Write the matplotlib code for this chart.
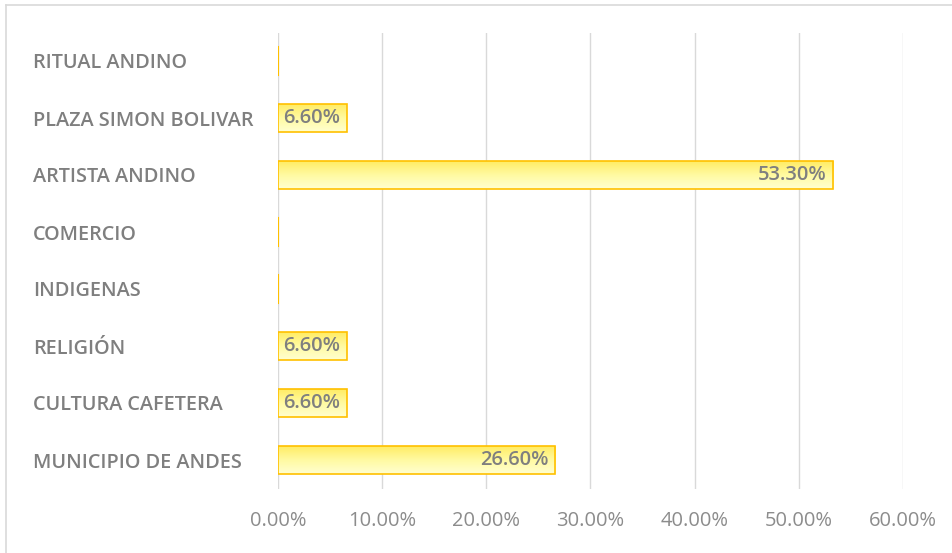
import matplotlib
matplotlib.use("Agg")
import matplotlib.pyplot as plt
import numpy as np
from matplotlib.colors import LinearSegmentedColormap
from matplotlib.lines import Line2D

categories = ["MUNICIPIO DE ANDES", "CULTURA CAFETERA", "RELIGIÓN", "INDIGENAS",
              "COMERCIO", "ARTISTA ANDINO", "PLAZA SIMON BOLIVAR", "RITUAL ANDINO"]
values = [26.6, 6.6, 6.6, 0.0, 0.0, 53.3, 6.6, 0.0]
xticks = [0, 10, 20, 30, 40, 50, 60]

W, H = 953, 553
fig = plt.figure(figsize=(W / 100, H / 100), dpi=100)
left, right, top, bottom = 278, 903, 32.5, 488.5
ax = fig.add_axes([left / W, 1 - bottom / H, (right - left) / W, (bottom - top) / H])

font = "Open Sans"
gray = "#7f7f7f"

ax.set_xlim(0, 60)
ax.set_ylim(-0.5, len(categories) - 0.5)
for s in ax.spines.values():
    s.set_visible(False)
ax.set_xticks(xticks)
ax.set_xticklabels([f"{t:.2f}%" for t in xticks], fontfamily=font, fontsize=14.5, color="#8c8c8c")
ax.tick_params(axis="x", length=0, pad=16)
ax.grid(axis="x", color="#d9d9d9", linewidth=1)
ax.set_axisbelow(True)

ax.set_yticks(range(len(categories)))
ax.set_yticklabels(categories, fontfamily=font, fontsize=14.3, fontweight="semibold", color=gray, ha="left")
ax.tick_params(axis="y", length=0, pad=(left - 33) * 72 / 100)

cmap = LinearSegmentedColormap.from_list("yel", ["#ffffd0", "#fffaa0", "#ffeb60"])
grad = np.linspace(0, 1, 64).reshape(-1, 1)
bh = 0.5
bars = ax.barh(range(len(categories)), values, height=bh, color="none", edgecolor="#ffc000", linewidth=1.2, zorder=3)
for i, (b, v) in enumerate(zip(bars, values)):
    if v > 0:
        im = ax.imshow(grad, cmap=cmap, aspect="auto", extent=(0, v, i + bh / 2, i - bh / 2),
                       zorder=2, interpolation="bicubic")
        im.set_clip_path(b)
        ax.annotate(f"{v:.2f}%", xy=(v, i), xytext=(-5, 0), textcoords="offset points",
                    ha="right", va="center", fontfamily=font, fontsize=14.5, fontweight="semibold",
                    color=gray, zorder=4)
    else:
        ax.plot([0, 0], [i - bh / 2, i + bh / 2], color="#ffc000", linewidth=1.5, zorder=4)
ax.set_xlim(0, 60)
ax.set_ylim(-0.5, len(categories) - 0.5)

fig.add_artist(Line2D([6 / W, 6 / W], [0, 1 - 5 / H], color="#d9d9d9", linewidth=1.2))
fig.add_artist(Line2D([6 / W, 1], [1 - 5 / H, 1 - 5 / H], color="#d9d9d9", linewidth=1.2))

fig.savefig("out.png", dpi=100)
